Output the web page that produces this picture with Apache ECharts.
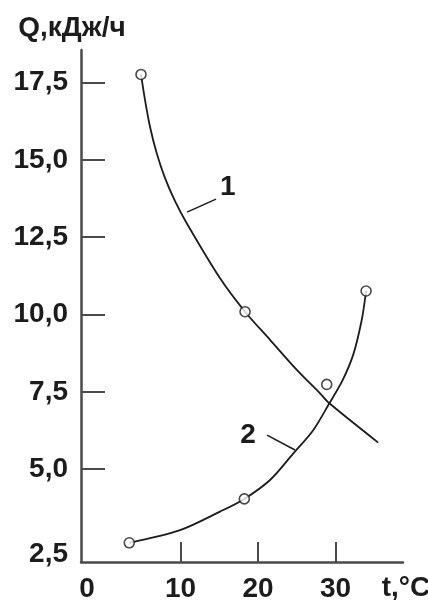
<!DOCTYPE html>
<html>
<head>
<meta charset="utf-8">
<script src="https://cdn.jsdelivr.net/npm/echarts@6/dist/echarts.min.js"></script>
<style>
  html, body { margin: 0; padding: 0; background: #fff; }
  #chart { width: 428px; height: 600px; }
</style>
</head>
<body>
<div id="chart"></div>
<script>
// Heat flow Q (kJ/h) versus temperature t (°C)

// Curve 1: points along the smooth curve [t, Q]
const curve1 = [
  [4.9, 17.76], [5.42, 16.93], [6.06, 16.07], [6.93, 15.21], [7.94, 14.45],
  [9.23, 13.7], [10.8, 12.95], [15.1, 11.17], [18.32, 10.09], [21.55, 9.18],
  [25.0, 8.21], [28.0, 7.45], [29.2, 7.13], [35.5, 5.86]
];
// Curve 1: measured points (hollow circles)
const points1 = [[4.9, 17.76], [18.32, 10.09]];

// Curve 2: points along the smooth curve [t, Q]
const curve2 = [
  [3.39, 2.62], [9.94, 3.03], [15.1, 3.63], [18.23, 4.04], [21.55, 4.65],
  [24.55, 5.51], [27.14, 6.27], [29.2, 7.13], [30.88, 7.86], [32.3, 8.72],
  [33.38, 9.83], [33.94, 10.76]
];
// Curve 2: measured points (hollow circles)
const points2 = [[3.39, 2.62], [18.23, 4.04], [28.86, 7.74], [33.94, 10.76]];

// Tick labels
const qLabels = [2.5, 5, 7.5, 10, 12.5, 15, 17.5];
const qTicks = [5, 7.5, 10, 12.5, 15, 17.5];
const tLabels = [0, 10, 20, 30];
const tTicks = [10, 20, 30];

// Curve numbers and their leader lines, in data coordinates
const leader1 = [[10.84, 13.31], [14.58, 13.73]];
const tag1 = [16.1, 14.09];
const leader2 = [[21.16, 6.10], [24.77, 5.62]];
const tag2 = [18.7, 6.08];

const INK = '#1c1c1c';
const AXIS = '#4a4a4a';
const FONT = 'Liberation Sans';
const textStyle = { color: INK, fontFamily: FONT, fontWeight: 'bold', fontSize: 28 };

function leaderLine(seg) {
  return {
    silent: true,
    symbol: ['none', 'none'],
    lineStyle: { color: INK, width: 1.6, type: 'solid' },
    label: { show: false },
    data: [[{ coord: seg[0] }, { coord: seg[1] }]]
  };
}
function tag(pos, text) {
  return {
    silent: true,
    symbolSize: 1,
    itemStyle: { color: 'rgba(0,0,0,0)' },
    label: Object.assign({ show: true, position: 'inside', formatter: text }, textStyle),
    data: [{ coord: pos }]
  };
}

const chart = echarts.init(document.getElementById('chart'), null, { renderer: 'canvas' });
chart.setOption({
  animation: false,
  backgroundColor: '#fff',
  grid: { left: 81, right: 25, top: 50, bottom: 38, containLabel: false, outerBoundsMode: 'none' },
  xAxis: {
    type: 'value',
    min: -2.84,
    max: 38.7,
    name: 't,°C',
    nameLocation: 'end',
    nameGap: 3,
    nameTextStyle: Object.assign({ align: 'center', verticalAlign: 'top', padding: [12, 0, 0, 0] }, textStyle),
    axisLine: { show: true, onZero: false, lineStyle: { color: AXIS, width: 2.5 } },
    axisTick: { show: true, inside: true, length: 20, customValues: tTicks, lineStyle: { color: AXIS, width: 2 } },
    axisLabel: Object.assign({
      margin: 13,
      customValues: tLabels,
      formatter: v => (v === 0 ? '{z|0}' : String(v)),
      rich: { z: Object.assign({ padding: [0, 32, 0, 0] }, textStyle) }
    }, textStyle),
    splitLine: { show: false }
  },
  yAxis: {
    type: 'value',
    min: 2.0,
    max: 18.55,
    name: 'Q,кДж/ч',
    nameLocation: 'end',
    nameGap: 8,
    nameTextStyle: Object.assign({ align: 'center', padding: [0, 18, 0, 0] }, textStyle),
    axisLine: { show: true, onZero: false, lineStyle: { color: AXIS, width: 2.5 } },
    axisTick: { show: true, inside: true, length: 24, customValues: qTicks, lineStyle: { color: AXIS, width: 2 } },
    axisLabel: Object.assign({
      margin: 13,
      customValues: qLabels,
      formatter: v => {
        const s = v.toFixed(1).replace('.', ',');
        return v === 2.5 ? '{b|' + s + '}' : s;
      },
      rich: { b: Object.assign({ padding: [16, 0, 0, 0] }, textStyle) }
    }, textStyle),
    splitLine: { show: false }
  },
  series: [
    {
      name: '1',
      type: 'line',
      data: curve1,
      smooth: 0.3,
      showSymbol: false,
      lineStyle: { color: INK, width: 1.8 },
      markLine: leaderLine(leader1),
      markPoint: tag(tag1, '1'),
      z: 2
    },
    {
      name: '2',
      type: 'line',
      data: curve2,
      smooth: 0.3,
      showSymbol: false,
      lineStyle: { color: INK, width: 1.8 },
      markLine: leaderLine(leader2),
      markPoint: tag(tag2, '2'),
      z: 2
    },
    {
      type: 'scatter',
      data: points1.concat(points2),
      symbol: 'circle',
      symbolSize: 10,
      itemStyle: { color: '#fff', borderColor: INK, borderWidth: 1.6 },
      z: 5
    }
  ]
});
</script>
</body>
</html>
